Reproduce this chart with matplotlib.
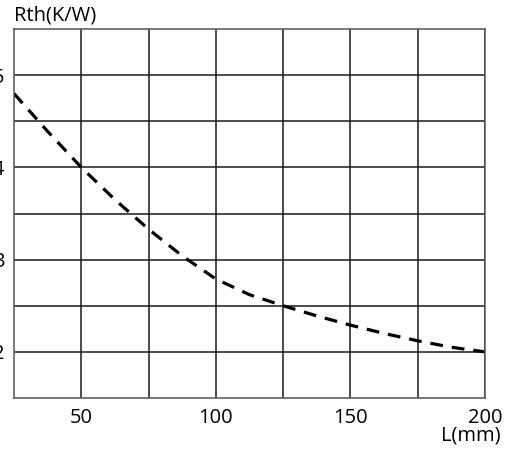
import matplotlib.pyplot as plt

L_mm = [25, 37.5, 50, 62.5, 75, 87.5, 100, 112.5, 125, 137.5, 150, 162.5, 175, 187.5, 200]
rth = [4.80, 4.39, 4.00, 3.65, 3.33, 3.04, 2.79, 2.62, 2.50, 2.39, 2.29, 2.20, 2.12, 2.05, 2.00]

x_ticks = [50, 100, 150, 200]
y_ticks = [2, 3, 4, 5]

plt.rcParams['font.family'] = ['Open Sans', 'DejaVu Sans']

fig = plt.figure(figsize=(5.18, 4.5), dpi=100)
ax = fig.add_axes([14 / 518, 1 - 398 / 450, 471 / 518, 369 / 450])

ax.plot(L_mm, rth, color='black', lw=2.3, linestyle=(0, (4.0, 2.8)))

ax.set_xlim(25, 200)
ax.set_ylim(1.5, 5.5)
ax.set_xticks(x_ticks)
ax.set_xticks([75, 125, 175], minor=True)
ax.set_yticks(y_ticks)
ax.set_yticks([2.5, 3.5, 4.5], minor=True)
ax.grid(True, which='both', color='#1a1a1a', lw=1.1)
ax.tick_params(which='both', length=0)
ax.tick_params(axis='x', pad=7, labelsize=14.5)
ax.tick_params(axis='y', pad=7, labelsize=14.5)
for s in ax.spines.values():
    s.set_color('#555555')
    s.set_linewidth(1.1)

fig.text(14 / 518, 1 - 16 / 450, 'Rth(K/W)', fontsize=14.5, ha='left', va='center')
fig.text(501 / 518, 1 - 436 / 450, 'L(mm)', fontsize=14.5, ha='right', va='center')

plt.savefig('out.png', dpi=100)
